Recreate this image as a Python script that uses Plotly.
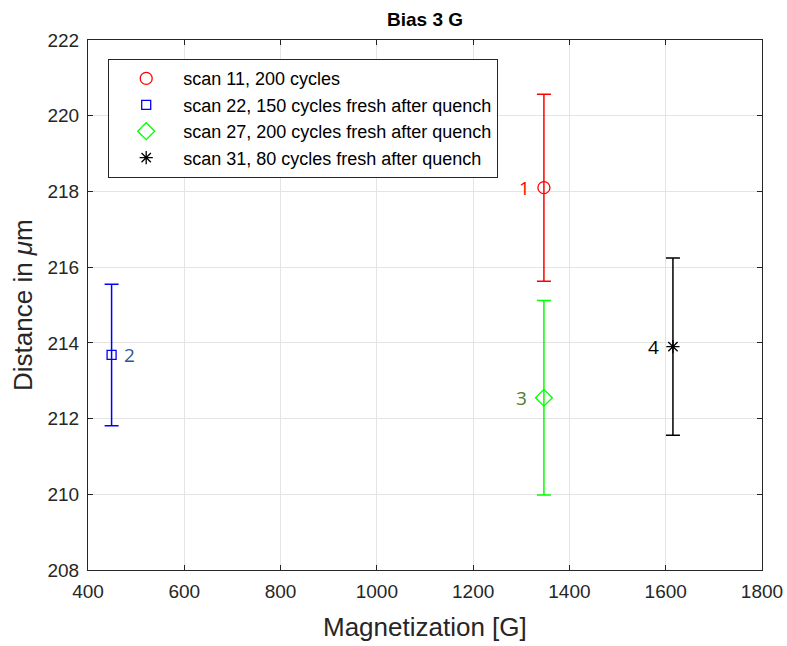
import plotly.graph_objects as go

names = ["scan 11, 200 cycles", "scan 22, 150 cycles fresh after quench",
         "scan 27, 200 cycles fresh after quench", "scan 31, 80 cycles fresh after quench"]
mag = [1347, 449, 1347, 1615]
dist = [218.1, 213.68, 212.55, 213.9]
err = [2.47, 1.87, 2.57, 2.34]
labels = ["1", "2", "3", "4"]
colors = ["#ff0000", "#0000ff", "#00ff00", "#000000"]
label_colors = ["#ff0000", "#2f5597", "#4e7a31", "#000000"]
symbols = ["circle-open", "square-open", "diamond-open", "asterisk-open"]
sizes = [12, 9, 13, 11]
label_shift = [-12, 10, -15, -12]

L, R, T, B = 88, 25, 40, 76
W, H = 787, 646
pw, ph = W - L - R, H - T - B

fig = go.Figure()
for i in range(4):
    fig.add_trace(go.Scatter(
        x=[mag[i]], y=[dist[i]], mode="markers", name=names[i],
        marker=dict(symbol=symbols[i], size=sizes[i], color=colors[i],
                    line=dict(color=colors[i], width=1.3)),
        error_y=dict(type="data", array=[err[i]], color=colors[i], thickness=1.5, width=7),
    ))
    fig.add_annotation(x=mag[i], y=dist[i], text=labels[i], showarrow=False,
                       xanchor="right" if label_shift[i] < 0 else "left",
                       xshift=label_shift[i],
                       font=dict(family="Open Sans, Liberation Sans", size=19, color=label_colors[i]))

tickfont = dict(family="Liberation Sans, Arial", size=19, color="#262626")
axis_common = dict(showgrid=True, gridcolor="#e4e4e4", gridwidth=1, ticks="inside", ticklen=5,
                   tickcolor="#262626", mirror="ticks", showline=True, linecolor="#262626",
                   linewidth=1.2, zeroline=False, tickfont=tickfont, automargin=False)

# axis titles as annotations for precise placement
fig.add_annotation(text="Magnetization [G]", xref="paper", yref="paper",
                   x=0.5, y=(H - B - 627) / ph, xanchor="center", yanchor="middle", showarrow=False,
                   font=dict(family="Liberation Sans, Arial", size=26, color="#262626"))
fig.add_annotation(text="Distance in <i>μ</i>m", xref="paper", yref="paper", textangle=-90,
                   x=(23 - L) / pw, y=(H - B - 305) / ph, xanchor="center", yanchor="middle", showarrow=False,
                   font=dict(family="Liberation Sans, Arial", size=26, color="#262626"))

fig.update_layout(
    width=W, height=H,
    margin=dict(l=L, r=R, t=T, b=B, autoexpand=False),
    paper_bgcolor="white", plot_bgcolor="white",
    title=dict(text="<b>Bias 3 G</b>", x=(L + W - R) / 2 / W, xanchor="center", y=1 - 19 / H, yanchor="middle",
               font=dict(family="Liberation Sans, Arial", size=19, color="#000000")),
    xaxis=dict(range=[400, 1800], dtick=200, tick0=400, ticklabelstandoff=4, **axis_common),
    yaxis=dict(range=[208, 222], dtick=2, tick0=208, ticklabelstandoff=4, **axis_common),
    legend=dict(x=(108 - L) / pw, y=(H - B - 59) / ph, xanchor="left", yanchor="top",
                bgcolor="white", bordercolor="#262626", borderwidth=1.2,
                font=dict(family="Liberation Sans, Arial", size=18, color="#000000"),
                tracegroupgap=0, itemwidth=64),
    showlegend=True,
)

fig.write_html("out.html")
